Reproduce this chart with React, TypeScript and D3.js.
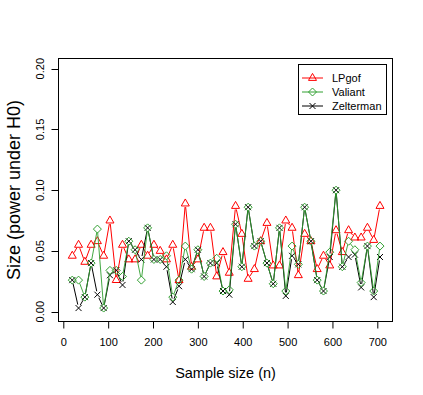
import * as d3 from 'd3';
import { useRef, useEffect } from 'react';

// sample sizes (n) on the x axis
const sampleSize = [20, 34, 48, 62, 76, 90, 104, 118, 132, 146, 160, 174, 188, 202, 216, 230, 244, 258, 272, 286,
  300, 314, 328, 342, 356, 370, 384, 398, 412, 426, 440, 454, 468, 482, 496, 510, 524, 538, 552, 566,
  580, 594, 608, 622, 636, 650, 664, 678, 692, 706];

// size (power under H0)
const lpgof = [0.046, 0.055, 0.041, 0.055, 0.058, 0.046, 0.075, 0.026, 0.055, 0.043,
  0.043, 0.055, 0.046, 0.055, 0.050, 0.043, 0.055, 0.026, 0.089, 0.037,
  0.043, 0.069, 0.069, 0.029, 0.049, 0.032, 0.087, 0.064, 0.027, 0.035,
  0.058, 0.073, 0.038, 0.038, 0.075, 0.069, 0.030, 0.064, 0.058, 0.035,
  0.046, 0.038, 0.067, 0.049, 0.067, 0.061, 0.061, 0.069, 0.059, 0.087];
const valiant = [0.026, 0.026, 0.012, 0.040, 0.068, 0.003, 0.034, 0.034, 0.029, 0.058,
  0.051, 0.026, 0.069, 0.043, 0.043, 0.046, 0.012, 0.026, 0.054, 0.035,
  0.051, 0.029, 0.040, 0.044, 0.017, 0.018, 0.072, 0.037, 0.086, 0.054,
  0.058, 0.040, 0.023, 0.069, 0.017, 0.054, 0.039, 0.086, 0.058, 0.026,
  0.017, 0.049, 0.100, 0.037, 0.058, 0.051, 0.024, 0.054, 0.017, 0.054];
const zelterman = [0.026, 0.003, 0.012, 0.040, 0.014, 0.003, 0.030, 0.034, 0.022, 0.058,
  0.051, 0.043, 0.069, 0.043, 0.043, 0.037, 0.008, 0.021, 0.043, 0.035,
  0.051, 0.029, 0.040, 0.040, 0.017, 0.014, 0.072, 0.037, 0.086, 0.054,
  0.058, 0.040, 0.023, 0.069, 0.013, 0.046, 0.039, 0.086, 0.058, 0.026,
  0.017, 0.045, 0.100, 0.037, 0.045, 0.047, 0.020, 0.054, 0.012, 0.045];

const xTicks = [0, 100, 200, 300, 400, 500, 600, 700];
const yTicks = [0, 0.05, 0.1, 0.15, 0.2];
const yTickLabels = ["0.00", "0.05", "0.10", "0.15", "0.20"];
const seriesNames = ["LPgof", "Valiant", "Zelterman"];

const FONT = "'Liberation Sans', Arial, sans-serif";
const RED = "#ff0000";
const GREEN = "#31a031";

type Shape = "tri" | "dia" | "x";

function marker(g: any, cx: number, cy: number, shape: Shape, color: string) {
  if (shape === "tri") {
    g.append("path")
      .attr("d", `M${cx},${cy - 4.6}L${cx + 4},${cy + 2.4}L${cx - 4},${cy + 2.4}Z`)
      .attr("fill", "none").attr("stroke", color).attr("stroke-width", 1);
  } else if (shape === "dia") {
    g.append("path")
      .attr("d", `M${cx},${cy - 4}L${cx + 4},${cy}L${cx},${cy + 4}L${cx - 4},${cy}Z`)
      .attr("fill", "none").attr("stroke", color).attr("stroke-width", 1);
  } else {
    g.append("path")
      .attr("d", `M${cx - 3},${cy - 3}L${cx + 3},${cy + 3}M${cx - 3},${cy + 3}L${cx + 3},${cy - 3}`)
      .attr("fill", "none").attr("stroke", color).attr("stroke-width", 1);
  }
}

export default function App() {
  const ref = useRef<SVGSVGElement>(null);

  useEffect(() => {
    const svg = d3.select(ref.current);
    svg.selectAll("*").remove();

    // plot region (R default margins)
    const left = 58.5, right = 392.5, top = 58.5, bottom = 321.5;

    const x = d3.scaleLinear().domain([0, 700]).range([63.3, 377.3]);
    const y = d3.scaleLinear().domain([0, 0.2]).range([311.7, 68.7]);

    svg.append("rect").attr("width", 423).attr("height", 395).attr("fill", "#fff");

    // type = "b": lines with gaps around the points
    const gap = 3.5;
    const drawSeries = (vals: number[], color: string, shape: Shape, opacity: number) => {
      const g = svg.append("g");
      for (let i = 0; i < vals.length - 1; i++) {
        const x0 = x(sampleSize[i]), y0 = y(vals[i]);
        const x1 = x(sampleSize[i + 1]), y1 = y(vals[i + 1]);
        const len = Math.hypot(x1 - x0, y1 - y0);
        if (len <= 2 * gap) continue;
        const f = gap / len;
        g.append("line")
          .attr("x1", x0 + f * (x1 - x0)).attr("y1", y0 + f * (y1 - y0))
          .attr("x2", x1 - f * (x1 - x0)).attr("y2", y1 - f * (y1 - y0))
          .attr("stroke", color).attr("stroke-width", 1).attr("opacity", opacity);
      }
      vals.forEach((v, i) => marker(g, x(sampleSize[i]), y(v), shape, color));
    };

    drawSeries(lpgof, RED, "tri", 1);
    drawSeries(zelterman, "#000", "x", 1);
    drawSeries(valiant, GREEN, "dia", 0.9);

    // box
    svg.append("rect")
      .attr("x", left).attr("y", top)
      .attr("width", right - left).attr("height", bottom - top)
      .attr("fill", "none").attr("stroke", "#000").attr("stroke-width", 1);

    // x axis
    const xAxis = svg.append("g")
      .attr("transform", `translate(0,${bottom})`)
      .call(d3.axisBottom(x).tickValues(xTicks).tickSize(7).tickSizeOuter(0).tickPadding(10));
    xAxis.select(".domain").remove();
    xAxis.selectAll("text").attr("font-family", FONT).attr("font-size", 11).attr("fill", "#000");
    xAxis.selectAll("line").attr("stroke", "#000");

    // y axis, labels turned like R's las = 0
    const yAxis = svg.append("g");
    yTicks.forEach((t, i) => {
      yAxis.append("line")
        .attr("x1", left).attr("x2", left - 7)
        .attr("y1", Math.round(y(t)) + 0.5).attr("y2", Math.round(y(t)) + 0.5)
        .attr("stroke", "#000");
      yAxis.append("text")
        .attr("transform", `translate(44,${y(t)}) rotate(-90)`)
        .attr("text-anchor", "middle")
        .attr("font-family", FONT).attr("font-size", 11)
        .text(yTickLabels[i]);
    });

    // axis titles
    svg.append("text")
      .attr("x", (left + right) / 2).attr("y", 377.5)
      .attr("text-anchor", "middle")
      .attr("font-family", FONT).attr("font-size", 14.5)
      .text("Sample size (n)");
    svg.append("text")
      .attr("transform", `translate(20,${(top + bottom) / 2}) rotate(-90)`)
      .attr("text-anchor", "middle")
      .attr("font-family", FONT).attr("font-size", 18)
      .text("Size (power under H0)");

    // legend
    const lg = svg.append("g");
    lg.append("rect")
      .attr("x", 298.5).attr("y", 64.5).attr("width", 88).attr("height", 50)
      .attr("fill", "#fff").attr("stroke", "#000");
    const colors = [RED, GREEN, "#000"];
    const shapes: Shape[] = ["tri", "dia", "x"];
    seriesNames.forEach((name, i) => {
      const cy = 78 + i * 14;
      lg.append("line")
        .attr("x1", 302).attr("x2", 323).attr("y1", cy).attr("y2", cy)
        .attr("stroke", colors[i]);
      marker(lg, 312.5, cy, shapes[i], colors[i]);
      lg.append("text")
        .attr("x", 332).attr("y", cy + 4)
        .attr("font-family", FONT).attr("font-size", 11)
        .text(name);
    });
  }, []);

  return (
    <svg ref={ref} width={423} height={395} style={{ position: 'absolute', left: 0, top: 0 }}></svg>
  );
}
